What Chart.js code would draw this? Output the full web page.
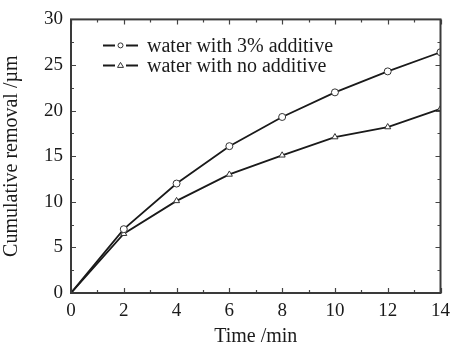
<!DOCTYPE html>
<html>
<head>
<meta charset="utf-8">
<script src="https://cdn.jsdelivr.net/npm/chart.js@4.4.1/dist/chart.umd.min.js"></script>
<style>
  html, body { margin: 0; padding: 0; background: #fff; }
  #wrap { width: 457px; height: 349px; position: relative; }
</style>
</head>
<body>
<div id="wrap"><canvas id="c"></canvas></div>
<script>
// data
const TIME = [0, 2, 4, 6, 8, 10, 12, 14];
const WITH_ADDITIVE = [0, 7.0, 12.0, 16.1, 19.3, 22.0, 24.3, 26.4];
const NO_ADDITIVE = [0, 6.5, 10.1, 13.0, 15.1, 17.1, 18.2, 20.2];
const X_TICKS = [0, 2, 4, 6, 8, 10, 12, 14];
const Y_TICKS = [0, 5, 10, 15, 20, 25, 30];

const FONT = "'Liberation Serif', 'Times New Roman', serif";
const INK = "#1a1a1a";

/* frame, inward ticks on all four sides, and the legend inside the plot */
const framePlugin = {
  id: "frame",
  afterDatasetsDraw(chart) {
    const { ctx, chartArea: a, scales } = chart;
    const xs = scales.x, ys = scales.y;
    ctx.save();
    ctx.strokeStyle = "#444";
    ctx.lineWidth = 1.2;
    ctx.beginPath();
    for (let v = 0; v <= 14; v += 1) {
      const px = Math.round(xs.getPixelForValue(v)) + 0.5;
      const len = v % 2 === 0 ? 5 : 3;
      ctx.moveTo(px, a.bottom); ctx.lineTo(px, a.bottom - len);
      ctx.moveTo(px, a.top); ctx.lineTo(px, a.top + len);
    }
    for (let v = 0; v <= 30; v += 2.5) {
      const py = Math.round(ys.getPixelForValue(v)) + 0.5;
      const len = v % 5 === 0 ? 5 : 3;
      ctx.moveTo(a.left, py); ctx.lineTo(a.left + len, py);
      ctx.moveTo(a.right, py); ctx.lineTo(a.right - len, py);
    }
    ctx.stroke();
    ctx.lineWidth = 2;
    ctx.strokeStyle = "#3a3a3a";
    ctx.strokeRect(a.left, a.top, a.right - a.left, a.bottom - a.top);

    // legend
    const x0 = a.left + 32;
    chart.data.datasets.forEach((ds, i) => {
      const y = a.top + 26 + i * 20;
      ctx.strokeStyle = INK;
      ctx.lineWidth = 2;
      ctx.beginPath();
      ctx.moveTo(x0, y); ctx.lineTo(x0 + 12, y);
      ctx.moveTo(x0 + 23, y); ctx.lineTo(x0 + 35, y);
      ctx.stroke();
      ctx.lineWidth = 1;
      ctx.strokeStyle = "#333";
      ctx.fillStyle = "#fff";
      ctx.beginPath();
      if (ds.pointStyle === "triangle") {
        ctx.moveTo(x0 + 17.5, y - 3); ctx.lineTo(x0 + 20.5, y + 2); ctx.lineTo(x0 + 14.5, y + 2); ctx.closePath();
      } else {
        ctx.arc(x0 + 17.5, y, 2.5, 0, Math.PI * 2);
      }
      ctx.fill(); ctx.stroke();
      ctx.fillStyle = INK;
      ctx.font = "20px " + FONT;
      ctx.textBaseline = "middle";
      ctx.textAlign = "left";
      ctx.fillText(ds.label, x0 + 44, y + 1);
    });
    ctx.restore();
  },
};

const pts = (ys) => TIME.map((t, i) => ({ x: t, y: ys[i] }));
const radii = TIME.map((t) => (t === 0 ? 0 : 3.5));

new Chart(document.getElementById("c"), {
  type: "line",
  data: {
    datasets: [
      {
        label: "water with 3% additive",
        data: pts(WITH_ADDITIVE),
        borderColor: INK,
        borderWidth: 1.8,
        pointStyle: "circle",
        pointRadius: radii,
        pointBorderWidth: 1,
        pointBorderColor: "#333",
        pointBackgroundColor: "#fff",
        tension: 0,
      },
      {
        label: "water with no additive",
        data: pts(NO_ADDITIVE),
        borderColor: INK,
        borderWidth: 1.8,
        pointStyle: "triangle",
        pointRadius: radii,
        pointBorderWidth: 1,
        pointBorderColor: "#333",
        pointBackgroundColor: "#fff",
        tension: 0,
      },
    ],
  },
  options: {
    responsive: true,
    maintainAspectRatio: false,
    animation: false,
    layout: { padding: { top: 16, right: 14, left: 0, bottom: 0 } },
    plugins: { legend: { display: false }, tooltip: { enabled: false } },
    scales: {
      x: {
        type: "linear",
        min: 0, max: 14,
        afterBuildTicks: (s) => { s.ticks = X_TICKS.map((v) => ({ value: v })); },
        afterFit: (s) => { s.height = 56; },
        grid: { display: false, drawTicks: false },
        border: { display: false },
        ticks: { color: INK, font: { family: FONT, size: 19 }, padding: 7, maxRotation: 0 },
        title: {
          display: true, text: "Time /min", color: INK,
          font: { family: FONT, size: 20 }, padding: { top: 0, bottom: 0 },
        },
      },
      y: {
        min: 0, max: 30,
        afterBuildTicks: (s) => { s.ticks = Y_TICKS.map((v) => ({ value: v })); },
        afterFit: (s) => { s.width = 71; },
        grid: { display: false, drawTicks: false },
        border: { display: false },
        ticks: { color: INK, font: { family: FONT, size: 19 }, padding: 8 },
        title: {
          display: true, text: "Cumulative removal /\u00b5m", color: INK,
          font: { family: FONT, size: 20 }, padding: { top: 0, bottom: 2 },
        },
      },
    },
  },
  plugins: [framePlugin],
});
</script>
</body>
</html>
